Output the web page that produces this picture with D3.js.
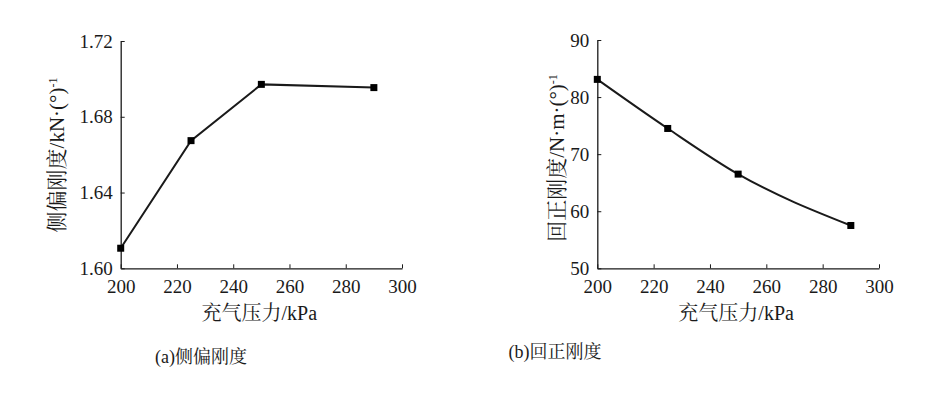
<!DOCTYPE html>
<html><head><meta charset="utf-8">
<script src="https://cdn.jsdelivr.net/npm/d3@7"></script>
<style>
html,body{margin:0;padding:0;background:#fff;}
svg{display:block;}
</style></head>
<body>
<svg id="chart" width="932" height="400"></svg>
<script>
// Data
const pressure = [200, 225, 250, 290];
const corneringStiffness = [1.6106, 1.6674, 1.6971, 1.6954];
const aligningStiffness = [83.1, 74.5, 66.5, 57.5];
const xTicks = [200, 220, 240, 260, 280, 300];
const yTicksA = [1.60, 1.64, 1.68, 1.72];
const yTicksB = [50, 60, 70, 80, 90];
const xTitle = "充气压力/kPa";
const yTitleA = "侧偏刚度/kN·(°)";
const yTitleB = "回正刚度/N·m·(°)";
const captionA = "(a)侧偏刚度";
const captionB = "(b)回正刚度";

const svg = d3.select("#chart");
const numFont = "'Liberation Serif','Times New Roman',serif";
const cjkFont = "'Liberation Serif','Noto Serif CJK SC','Noto Sans CJK SC',serif";
const ink = "#1a1a1a";

function panel(opt) {
  const x = d3.scaleLinear().domain([200, 300]).range([opt.x0, opt.x1]);
  const y = d3.scaleLinear().domain(opt.yDomain).range([opt.y1, opt.y0]);
  const g = svg.append("g");

  const xa = g.append("g").attr("transform", `translate(0,${opt.y1})`)
    .call(d3.axisBottom(x).tickValues(xTicks).tickSize(-4).tickSizeOuter(0).tickPadding(11));
  const ya = g.append("g").attr("transform", `translate(${opt.x0},0)`)
    .call(d3.axisLeft(y).tickValues(opt.yTicks).tickSize(-4).tickSizeOuter(0).tickPadding(8).tickFormat(opt.fmt));
  [xa, ya].forEach(a => {
    a.select(".domain").attr("stroke", ink).attr("stroke-width", 1.3);
    a.selectAll(".tick line").attr("stroke", ink).attr("stroke-width", 1);
    a.selectAll(".tick text").attr("fill", ink).style("font-family", numFont).style("font-size", "19px");
  });
  xa.selectAll(".tick text").attr("dy", "0.71em");

  const pts = pressure.map((p, i) => [p, opt.values[i]]);
  const line = d3.line().x(d => x(d[0])).y(d => y(d[1])).curve(opt.curve);
  g.append("path").attr("d", line(pts)).attr("fill", "none").attr("stroke", ink).attr("stroke-width", 2);
  const s = 7;
  g.selectAll("rect.m").data(pts).enter().append("rect")
    .attr("x", d => x(d[0]) - s / 2).attr("y", d => y(d[1]) - s / 2)
    .attr("width", s).attr("height", s).attr("fill", "#000");

  g.append("text").attr("x", (opt.x0 + opt.x1) / 2 - 2).attr("y", opt.y1 + 52)
    .attr("text-anchor", "middle").attr("fill", ink)
    .style("font-family", cjkFont).style("font-size", "20px").text(xTitle);
  const yt = g.append("text")
    .attr("transform", `translate(${opt.ytx},${opt.yty}) rotate(-90)`)
    .attr("text-anchor", "middle").attr("fill", ink)
    .style("font-family", cjkFont).style("font-size", "21px");
  yt.append("tspan").text(opt.yTitle);
  yt.append("tspan").attr("dy", "-0.55em").style("font-size", "12px").text("-1");
  g.append("text").attr("x", opt.capX).attr("y", opt.capY)
    .attr("text-anchor", "middle").attr("fill", ink)
    .style("font-family", cjkFont).style("font-size", "18px").text(opt.caption);
}

panel({
  x0: 120.7, x1: 402, y0: 41, y1: 268.3,
  yDomain: [1.60, 1.72], yTicks: yTicksA, fmt: d3.format(".2f"),
  values: corneringStiffness, curve: d3.curveLinear,
  yTitle: yTitleA, ytx: 64, yty: 155, caption: captionA, capX: 201, capY: 363
});
panel({
  x0: 597.3, x1: 879, y0: 40, y1: 268.3,
  yDomain: [50, 90], yTicks: yTicksB, fmt: d3.format("d"),
  values: aligningStiffness, curve: d3.curveMonotoneX,
  yTitle: yTitleB, ytx: 564, yty: 158, caption: captionB, capX: 555, capY: 358
});
</script>
</body></html>
